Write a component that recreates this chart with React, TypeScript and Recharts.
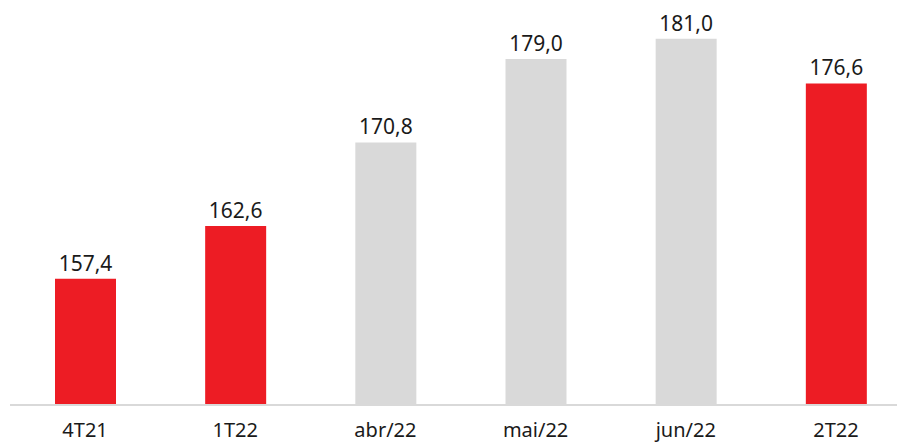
import React from "react";
import { BarChart, Bar, XAxis, YAxis, Cell, LabelList } from "recharts";

const categories = ["4T21", "1T22", "abr/22", "mai/22", "jun/22", "2T22"];
const values = [157.4, 162.6, 170.8, 179.0, 181.0, 176.6];
const highlighted = [true, true, false, false, false, true];

const RED = "#ED1C24";
const GRAY = "#D9D9D9";

const data = categories.map((c, i) => ({ name: c, value: values[i], hi: highlighted[i] }));

const fmt = (v: number) => v.toFixed(1).replace(".", ",");

export default function App() {
  return (
    <div style={{ position: "absolute", left: 0, top: 0, width: 897, height: 444, overflow: "hidden", background: "#fff" }}>
      <div style={{ position: "absolute", left: 0, top: -2 }}>
        <BarChart
          width={920}
          height={446}
          data={data}
          margin={{ top: 0, right: 9, bottom: 0, left: 10 }}
          barCategoryGap={0}
        >
          <XAxis
            dataKey="name"
            height={39}
            axisLine={{ stroke: GRAY, strokeWidth: 2 }}
            tickLine={false}
            tick={{ fill: "#1a1a1a", fontSize: 20, fontFamily: "Noto Sans" }}
            tickMargin={12}
          />
          <YAxis hide domain={[145, 185]} allowDataOverflow />
          <Bar dataKey="value" barSize={61} isAnimationActive={false}>
            {data.map((d, i) => (
              <Cell key={i} fill={d.hi ? RED : GRAY} />
            ))}
            <LabelList
              dataKey="value"
              position="top"
              offset={8}
              formatter={(v: any) => fmt(Number(v))}
              style={{ fill: "#1a1a1a", fontSize: 21, fontFamily: "Noto Sans" }}
            />
          </Bar>
        </BarChart>
      </div>
    </div>
  );
}
